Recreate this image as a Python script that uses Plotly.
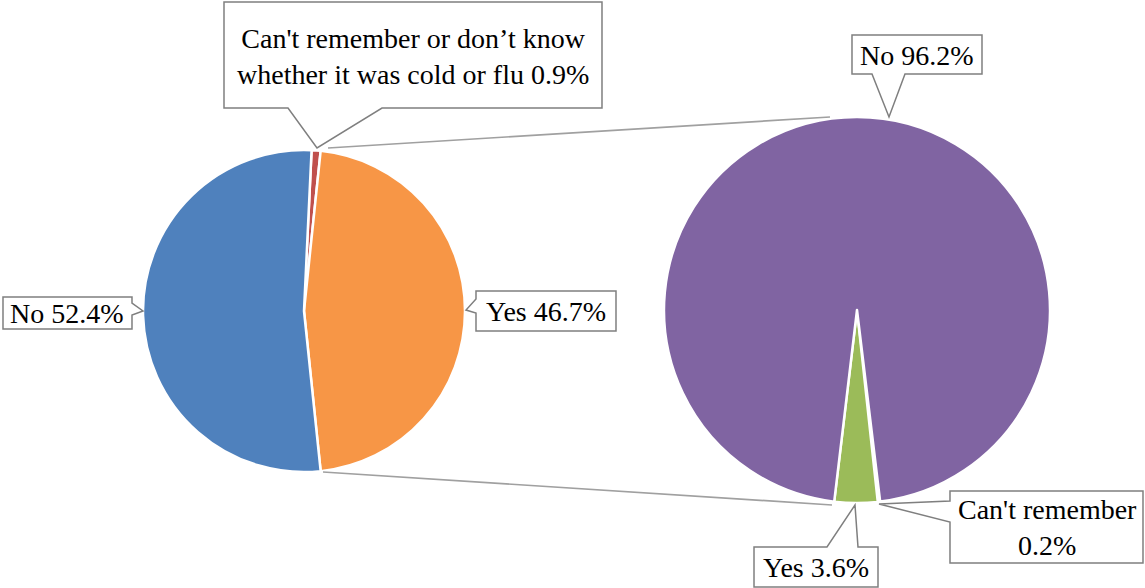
import plotly.graph_objects as go

W, H = 1145, 588

# ---- data ----
main_labels = ["Can't remember or don’t know whether it was cold or flu", "Yes", "No"]
main_values = [0.9, 46.7, 52.4]
main_colors = ["#C0504D", "#F79646", "#4F81BD"]

sub_labels = ["Can't remember", "Yes", "No"]
sub_values = [0.2, 3.6, 96.2]
sub_colors = ["#4BACC6", "#9BBB59", "#8064A2"]

main_texts = ["Can't remember or don’t know<br>whether it was cold or flu 0.9%", "Yes 46.7%", "No 52.4%"]
sub_texts = ["Can't remember<br>0.2%", "Yes 3.6%", "No 96.2%"]


def px(x):
    return x / W


def py(y):
    return 1 - y / H


fig = go.Figure()
fig.add_trace(go.Pie(
    labels=main_labels, values=main_values, sort=False, direction="clockwise",
    rotation=2.7, marker=dict(colors=main_colors, line=dict(color="white", width=2.5)),
    textinfo="none", showlegend=False,
    domain=dict(x=[px(143), px(465)], y=[py(472), py(150)]),
))
fig.add_trace(go.Pie(
    labels=sub_labels, values=sub_values, sort=False, direction="clockwise",
    rotation=173.1, marker=dict(colors=sub_colors, line=dict(color="white", width=2.5)),
    textinfo="none", showlegend=False,
    domain=dict(x=[px(664), px(1050)], y=[py(503), py(117)]),
))

shapes = []
# connector lines between the pies
for (x0, y0, x1, y1) in [(328, 148, 830, 117), (323, 472, 832, 505)]:
    shapes.append(dict(type="line", xref="paper", yref="paper",
                       x0=px(x0), y0=py(y0), x1=px(x1), y1=py(y1),
                       line=dict(color="#A0A0A0", width=1.7), layer="above"))


def callout(pts):
    d = "M " + " L ".join(f"{px(x):.5f},{py(y):.5f}" for x, y in pts) + " Z"
    return dict(type="path", xref="paper", yref="paper", path=d,
                fillcolor="white", line=dict(color="#7F7F7F", width=1.5), layer="above")


# callout outlines (box + tail)
shapes.append(callout([(224, 2), (602, 2), (602, 108), (382, 108), (317, 148), (288, 108), (224, 108)]))
shapes.append(callout([(3, 297), (132, 297), (132, 303), (143, 311), (132, 315), (132, 329), (3, 329)]))
shapes.append(callout([(476, 291), (616, 291), (616, 331), (476, 331), (476, 313), (466, 310), (476, 299)]))
shapes.append(callout([(852, 35), (982, 35), (982, 74), (905, 74), (889, 117), (872, 74), (852, 74)]))
shapes.append(callout([(754, 547), (827, 547), (855, 505), (858, 547), (878, 547), (878, 587), (754, 587)]))
shapes.append(callout([(950, 491), (1143, 491), (1143, 563), (950, 563), (950, 522), (879, 504), (950, 501)]))

fig.update_layout(shapes=shapes)

font = dict(family="Liberation Serif", size=28, color="black")
label_pos = [
    (main_texts[0], 413, 56),
    (main_texts[1], 546, 311),
    (main_texts[2], 67, 313),
    (sub_texts[0], 1047, 527),
    (sub_texts[1], 816, 567),
    (sub_texts[2], 917, 55),
]
for text, x, y in label_pos:
    fig.add_annotation(text=text, x=px(x), y=py(y), xref="paper", yref="paper",
                       xanchor="center", yanchor="middle", showarrow=False,
                       font=font, align="center")

fig.update_layout(
    width=W, height=H, margin=dict(l=0, r=0, t=0, b=0),
    paper_bgcolor="white", plot_bgcolor="white",
)

fig.write_html("out.html", config={"displayModeBar": False},
               post_script="document.body.style.margin='0';")
